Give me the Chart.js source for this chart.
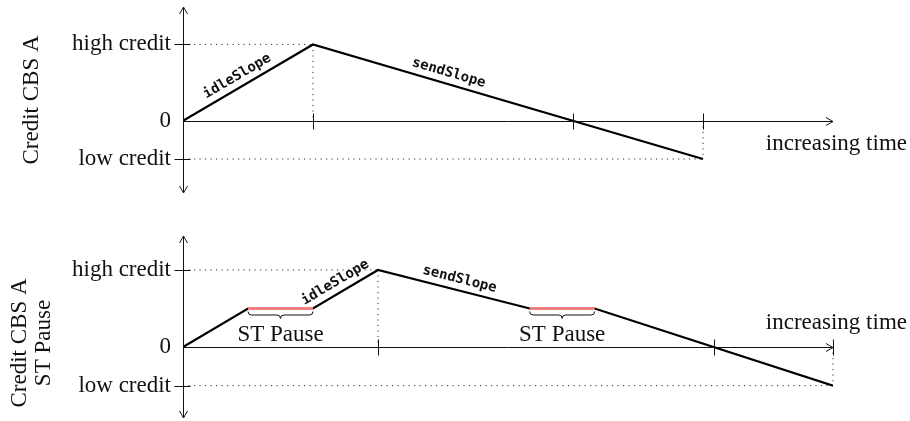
<!DOCTYPE html>
<html>
<head>
<meta charset="utf-8">
<script src="https://cdn.jsdelivr.net/npm/chart.js@4.4.0/dist/chart.umd.min.js"></script>
<style>
  html, body { margin: 0; padding: 0; background: #fff; }
  canvas { display: block; }
</style>
</head>
<body>
<canvas id="cbsA" width="910" height="210"></canvas>
<canvas id="cbsPause" width="910" height="211"></canvas>
<script>
// credit levels shown on the y axis
var creditTicks = [-1, 0, 2];
var creditLabels = ['low credit', '0', 'high credit'];

// plain CBS: idleSlope up to high credit, sendSlope down to low credit
var timeA = [0, 3, 12];
var creditA = [0, 2, -1];

// CBS with ST pauses, credit frozen while paused
var timeB = [0, 1.5, 3, 4.5, 8, 9.5, 15];
var creditB = [0, 1, 1, 2, 1, 1, -1];
var pauseStart = [1.5, 8];
var pauseEnd = [3, 9.5];
var pauseCredit = [1, 1];

var serif = '"Liberation Serif", "Times New Roman", serif';

function points(times, credits) {
  return times.map(function (t, i) { return { x: t, y: credits[i] }; });
}

function pausePoints() {
  var pts = [];
  for (var i = 0; i < pauseStart.length; i++) {
    if (i > 0) pts.push({ x: (pauseEnd[i - 1] + pauseStart[i]) / 2, y: null });
    pts.push({ x: pauseStart[i], y: pauseCredit[i] });
    pts.push({ x: pauseEnd[i], y: pauseCredit[i] });
  }
  return pts;
}

function seg(ctx, x1, y1, x2, y2) {
  ctx.beginPath();
  ctx.moveTo(x1, y1);
  ctx.lineTo(x2, y2);
  ctx.stroke();
}

// tikz style open arrow head, tip at (x, y), pointing along angle a
function arrow(ctx, x, y, a) {
  ctx.save();
  ctx.translate(x, y);
  ctx.rotate(a);
  ctx.beginPath();
  ctx.moveTo(-7, -4);
  ctx.quadraticCurveTo(-2, -1, 0, 0);
  ctx.quadraticCurveTo(-2, 1, -7, 4);
  ctx.stroke();
  ctx.restore();
}

function brace(ctx, x1, x2, y, d) {
  var m = (x1 + x2) / 2, h = d / 2;
  ctx.beginPath();
  ctx.moveTo(x1, y);
  ctx.quadraticCurveTo(x1, y + h, x1 + h, y + h);
  ctx.lineTo(m - h, y + h);
  ctx.quadraticCurveTo(m, y + h, m, y + d);
  ctx.quadraticCurveTo(m, y + h, m + h, y + h);
  ctx.lineTo(x2 - h, y + h);
  ctx.quadraticCurveTo(x2, y + h, x2, y);
  ctx.stroke();
}

var cbsDecor = {
  id: 'cbsDecor',
  beforeDatasetsDraw: function (chart, args, o) {
    var ctx = chart.ctx, xs = chart.scales.x, ys = chart.scales.y;
    var pts = chart.data.datasets[0].data;
    var peak = pts.reduce(function (a, b) { return b.y > a.y ? b : a; });
    var last = pts[pts.length - 1];
    var x0 = xs.getPixelForValue(0), y0 = ys.getPixelForValue(0);
    var pxp = xs.getPixelForValue(peak.x), pyp = ys.getPixelForValue(peak.y);
    var pxl = xs.getPixelForValue(last.x), pyl = ys.getPixelForValue(last.y);
    ctx.save();
    ctx.strokeStyle = '#333';
    ctx.lineWidth = 1;
    ctx.setLineDash([1.2, 4.3]);
    seg(ctx, x0, pyp, pxp, pyp);
    seg(ctx, pxp, pyp, pxp, y0);
    seg(ctx, x0, pyl, pxl, pyl);
    seg(ctx, pxl, y0, pxl, pyl);
    ctx.restore();
  },
  afterDatasetsDraw: function (chart, args, o) {
    var ctx = chart.ctx, xs = chart.scales.x, ys = chart.scales.y, ca = chart.chartArea;
    var pts = chart.data.datasets[0].data;
    var peak = pts.reduce(function (a, b) { return b.y > a.y ? b : a; });
    var last = pts[pts.length - 1];
    var cross = null;
    for (var i = 0; i < pts.length - 1; i++) {
      if (pts[i].y > 0 && pts[i + 1].y < 0) {
        cross = pts[i].x + pts[i].y / (pts[i].y - pts[i + 1].y) * (pts[i + 1].x - pts[i].x);
      }
    }
    var x0 = Math.round(xs.getPixelForValue(0)) + 0.5;
    var y0 = Math.round(ys.getPixelForValue(0)) + 0.5;

    ctx.save();
    ctx.strokeStyle = '#111';
    ctx.lineWidth = 1;
    // axes
    seg(ctx, x0, y0, ca.right, y0);
    arrow(ctx, ca.right, y0, 0);
    seg(ctx, x0, ca.top, x0, ca.bottom);
    arrow(ctx, x0, ca.top, -Math.PI / 2);
    arrow(ctx, x0, ca.bottom, Math.PI / 2);
    // y ticks at high / low credit
    [creditTicks[0], creditTicks[creditTicks.length - 1]].forEach(function (v) {
      var y = Math.round(ys.getPixelForValue(v)) + 0.5;
      seg(ctx, x0 - 9, y, x0 + 7, y);
    });
    // x ticks at peak, zero crossing and end
    [peak.x, cross, last.x].forEach(function (t) {
      var x = Math.round(xs.getPixelForValue(t)) + 0.5;
      seg(ctx, x, y0 - 8, x, y0 + 8);
    });

    // slope labels
    ctx.fillStyle = '#111';
    ctx.font = 'bold 14px "DejaVu Sans Mono", monospace';
    ctx.textAlign = 'center';
    ctx.textBaseline = 'middle';
    o.slopeLabels.forEach(function (l) {
      var a = pts[l.seg], b = pts[l.seg + 1];
      var ax = xs.getPixelForValue(a.x), ay = ys.getPixelForValue(a.y);
      var bx = xs.getPixelForValue(b.x), by = ys.getPixelForValue(b.y);
      ctx.save();
      ctx.translate(ax + (bx - ax) * l.at, ay + (by - ay) * l.at);
      ctx.rotate(Math.atan2(by - ay, bx - ax));
      ctx.fillText(l.text, 0, -11);
      ctx.restore();
    });

    // pause braces
    ctx.font = '23px ' + serif;
    if (o.pauses) {
      for (var k = 0; k < pauseStart.length; k++) {
        var x1 = xs.getPixelForValue(pauseStart[k]), x2 = xs.getPixelForValue(pauseEnd[k]);
        var py = ys.getPixelForValue(pauseCredit[k]);
        ctx.lineWidth = 1;
        brace(ctx, x1, x2, py + 3, 7);
        ctx.fillText('ST Pause', (x1 + x2) / 2, py + 26);
      }
    }

    // time label
    ctx.textAlign = 'right';
    ctx.fillText('increasing time', ca.right + 74, y0 + o.timeDy);

    // y axis title
    ctx.textAlign = 'center';
    o.title.forEach(function (line, j) {
      ctx.save();
      ctx.translate(o.titleX[j], o.titleY);
      ctx.rotate(-Math.PI / 2);
      ctx.fillText(line, 0, 0);
      ctx.restore();
    });
    ctx.restore();
  }
};

function makeChart(id, data, extra, yMin, yMax, pad, decor) {
  var datasets = [{
    data: data,
    borderColor: '#000',
    borderWidth: 2.2,
    pointRadius: 0,
    tension: 0,
    order: 1
  }];
  if (extra) {
    datasets.push({
      data: extra,
      borderColor: '#f08080',
      borderWidth: 3,
      pointRadius: 0,
      spanGaps: false,
      order: 0
    });
  }
  return new Chart(document.getElementById(id), {
    type: 'line',
    data: { datasets: datasets },
    options: {
      responsive: false,
      animation: false,
      layout: { padding: pad },
      plugins: {
        legend: { display: false },
        tooltip: { enabled: false },
        cbsDecor: decor
      },
      scales: {
        x: { type: 'linear', min: 0, max: 15, display: false },
        y: {
          type: 'linear',
          min: yMin,
          max: yMax,
          afterFit: function (s) {
            s.width = 183;
            s.paddingTop = 0;
            s.paddingBottom = 0;
          },
          afterBuildTicks: function (s) {
            s.ticks = creditTicks.map(function (v) { return { value: v }; });
          },
          grid: { display: false, drawTicks: false },
          border: { display: false },
          ticks: {
            padding: 12,
            color: '#111',
            font: { family: serif, size: 23 },
            callback: function (v) { return creditLabels[creditTicks.indexOf(v)]; }
          }
        }
      }
    },
    plugins: [cbsDecor]
  });
}

makeChart('cbsA', points(timeA, creditA), null, -1.89, 2.98,
  { left: 0, right: 77, top: 7, bottom: 17 },
  {
    slopeLabels: [
      { text: 'idleSlope', seg: 0, at: 0.46 },
      { text: 'sendSlope', seg: 1, at: 0.34 }
    ],
    pauses: false,
    timeDy: 22,
    title: ['Credit CBS A'],
    titleX: [32],
    titleY: 100
  });

makeChart('cbsPause', points(timeB, creditB), pausePoints(), -1.84, 2.88,
  { left: 0, right: 77, top: 26, bottom: 3 },
  {
    slopeLabels: [
      { text: 'idleSlope', seg: 2, at: 0.43 },
      { text: 'sendSlope', seg: 3, at: 0.52 }
    ],
    pauses: true,
    timeDy: -25,
    title: ['Credit CBS A', 'ST Pause'],
    titleX: [20, 44],
    titleY: 133
  });
</script>
</body>
</html>
